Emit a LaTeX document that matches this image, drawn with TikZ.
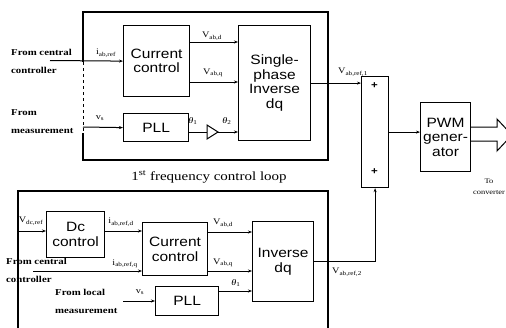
\documentclass[tikz,border=0pt]{standalone}
\usepackage{fontspec}
\setmainfont{Liberation Serif}
\newfontfamily\boxfont[FakeStretch=1.15]{Liberation Sans}
\newfontfamily\lblfont[FakeStretch=1.2]{Liberation Serif}
\usetikzlibrary{arrows.meta,calc}
\tikzset{
  blk/.style={draw, line width=1.2pt, inner sep=0pt, anchor=north west, align=center,
    font=\boxfont\fontsize{13.5}{14.5}\selectfont},
  frame/.style={line width=1.2pt},
  conn/.style={line width=1pt},
  arr/.style={conn, -{Stealth[length=4pt,width=3pt]}},
  lbl/.style={font=\lblfont\bfseries\fontsize{9}{18}\selectfont, inner sep=0pt, align=left, anchor=west},
  sub/.style={font=\lblfont\fontsize{8.5}{9}\selectfont, inner sep=0pt},
  plus/.style={font=\boxfont\bfseries\fontsize{10}{10}\selectfont, inner sep=0pt},
}
\begin{document}
\begin{tikzpicture}[x=1pt,y=-1pt]
\useasboundingbox (0,0) rectangle (506,327);
% ---------- top loop ----------
\draw[frame] (83,62) -- (83,12) -- (328,12) -- (328,160) -- (83,160) -- (83,133);
\draw[conn, dashed] (83,62) -- (83,133);
\node[blk, minimum width=66pt, minimum height=71pt] (cc1) at (123,25) {Current\\control};
\node[blk, minimum width=72pt, minimum height=115pt] (inv1) at (238,25) {Single-\\phase\\Inverse\\dq};
\node[blk, minimum width=65pt, minimum height=28pt] (pll1) at (123,113) {PLL};

\node[lbl] (fcc1) at (11,61) {From central\\controller};
\coordinate (in1) at (50,60.5);
\draw[arr] (in1) -- (cc1.west);
\node[sub] (iref1) at (106,53) {i\textsubscript{ab,ref}};

\node[lbl] (fm1) at (11,122) {From\\measurement};
\coordinate (in2) at (83,127);
\draw[arr] (in2) -- (pll1.west);
\node[sub] (vs1) at (100,118) {v\textsubscript{s}};

\coordinate (ca) at ($(cc1.north east)+(0,17)$);
\coordinate (cb) at ($(cc1.north east)+(0,57)$);
\draw[arr] (ca) -- (ca -| inv1.west);
\draw[arr] (cb) -- (cb -| inv1.west);
\node[sub] (vd1) at (212,36) {V\textsubscript{ab,d}};
\node[sub] (vq1) at (213,73) {V\textsubscript{ab,q}};

\coordinate (tl) at (207,132);
\coordinate (tr) at (218,132);
\draw[conn] (tl -| pll1.east) -- (tl);
\draw[conn] (207,125) -- (tr) -- (207,139) -- cycle;
\draw[arr] (tr) -- (tr -| inv1.west);
\node[sub] (th1) at (193,121) {\textit{θ}\textsubscript{1}};
\node[sub] (th2) at (227,121) {\textit{θ}\textsubscript{2}};

\node[font=\lblfont\fontsize{12.5}{12.5}\selectfont, inner sep=0pt] (cap) at (209,177)
  {1\textsuperscript{st} frequency control loop};

% ---------- sum and PWM ----------
\node[blk, minimum width=27pt, minimum height=111pt] (sum) at (361,76) {};
\node[plus] (p1) at (374.5,86) {+};
\node[plus] (p2) at (374.5,172) {+};
\draw[arr] (inv1.east) -- (inv1.east -| sum.west);
\node[sub] (vr1) at (353,72) {V\textsubscript{ab,ref,1}};

\node[blk, minimum width=50pt, minimum height=69pt] (pwm) at (420,102) {PWM\\gener-\\ator};
\draw[arr] (sum.east) -- (sum.east -| pwm.west);

\coordinate (h1) at (497,127);
\coordinate (h2) at (497,141);
\draw[conn] (h1 -| pwm.east) -- (h1) -- (497,119) -- (512,135) -- (497,151) -- (h2) -- (h2 -| pwm.east);
\node[font=\lblfont\fontsize{7}{11}\selectfont, inner sep=0pt, align=center] (toc) at (489,187) {To\\converter};

% ---------- bottom loop ----------
\draw[frame] (18,330) -- (18,191) -- (328,191) -- (328,330);
\node[blk, minimum width=58pt, minimum height=46pt] (dc) at (46,211) {Dc\\control};
\node[blk, minimum width=65pt, minimum height=53pt] (cc2) at (142,222) {Current\\control};
\node[blk, minimum width=61pt, minimum height=80pt] (inv2) at (252,221) {Inverse\\dq};
\node[blk, minimum width=63pt, minimum height=29pt] (pll2) at (155,286) {PLL};

\coordinate (in3) at (18,231);
\draw[arr] (in3) -- (in3 -| dc.west);
\node[sub] (vdc) at (31,221) {V\textsubscript{dc,ref}};
\draw[arr] (in3 -| dc.east) -- (in3 -| cc2.west);
\node[sub] (ird) at (121,222) {i\textsubscript{ab,ref,d}};

\node[lbl] (fcc2) at (6,270.5) {From central\\controller};
\coordinate (in4) at (33,271);
\draw[arr] (in4) -- (in4 -| cc2.west);
\node[sub] (irq) at (125,264) {i\textsubscript{ab,ref,q}};

\node[lbl] (fm2) at (55,301) {From local\\measurement};
\coordinate (in5) at (123,301);
\draw[arr] (in5) -- (in5 -| pll2.west);
\node[sub] (vs2) at (140,292) {v\textsubscript{s}};

\coordinate (cc) at ($(cc2.north east)+(0,10)$);
\coordinate (cd) at ($(cc2.north east)+(0,49)$);
\draw[arr] (cc) -- (cc -| inv2.west);
\draw[arr] (cd) -- (cd -| inv2.west);
\node[sub] (vd2) at (223,223) {V\textsubscript{ab,d}};
\node[sub] (vq2) at (223,263) {V\textsubscript{ab,q}};

\coordinate (pe) at ($(pll2.north east)+(0,5)$);
\draw[arr] (pe) -- (pe -| inv2.west);
\node[sub] (th3) at (236,283) {\textit{θ}\textsubscript{1}};

\draw[arr] (inv2.east) -- (inv2.east -| sum.south) -- (sum.south);
\node[sub] (vr2) at (347,272) {V\textsubscript{ab,ref,2}};
\end{tikzpicture}
\end{document}
